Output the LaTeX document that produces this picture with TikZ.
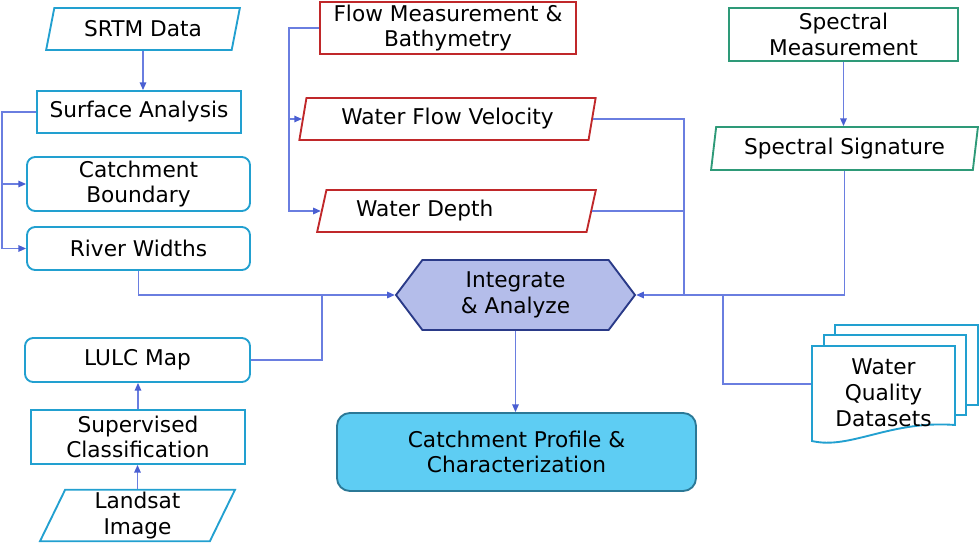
\documentclass[tikz,border=0pt]{standalone}
\usepackage{fontspec}
\setmainfont{DejaVu Sans}
\usepackage{tikz}
\usetikzlibrary{arrows.meta, positioning, shapes.geometric, shapes.symbols, calc}
\definecolor{srcblue}{HTML}{22A0D0}
\definecolor{flowred}{HTML}{C0282A}
\definecolor{specgreen}{HTML}{2E9A78}
\definecolor{linkblue}{HTML}{6A7EE0}
\definecolor{tipblue}{HTML}{4A5FD2}
\definecolor{hexfill}{HTML}{B4BDEA}
\definecolor{hexdraw}{HTML}{2A3A88}
\definecolor{resfill}{HTML}{5ECDF3}
\definecolor{resdraw}{HTML}{2B7896}

\tikzset{
    boxtext/.style={font=\fontsize{18.5}{22}\selectfont, align=center, inner sep=2pt, line width=1.6pt},
    plainbox/.style={boxtext, draw=#1, rectangle},
    roundbox/.style={boxtext, draw=srcblue, rectangle, rounded corners=7pt},
    parabox/.style n args={3}{boxtext, draw=#1, trapezium, trapezium stretches=true,
        trapezium left angle=#2, trapezium right angle=#3},
    link/.style={draw=linkblue, line width=1.2pt},
    arrowlink/.style={link, -{Triangle[length=6.5pt, width=5.5pt, color=tipblue]}}
}

\begin{document}
\begin{tikzpicture}[x=0.3mm, y=-0.3mm]
    \useasboundingbox (0,0) rectangle (980,543);

    % left column: terrain
    \node[parabox={srcblue}{75}{105}, minimum width=5.82cm, minimum height=1.26cm] (srtm) at (143,29) {SRTM Data};
    \node[plainbox=srcblue, minimum width=6.12cm, minimum height=1.26cm] (surface) at (139,112) {Surface Analysis};
    \node[roundbox, minimum width=6.69cm, minimum height=1.62cm] (boundary) at (138.5,184) {Catchment\\Boundary};
    \node[roundbox, minimum width=6.69cm, minimum height=1.29cm] (widths) at (138.5,248.5) {River Widths};

    % left column: land cover
    \node[roundbox, minimum width=6.75cm, minimum height=1.32cm] (lulc) at (137.5,360) {LULC Map};
    \node[plainbox=srcblue, minimum width=6.42cm, minimum height=1.62cm] (classif) at (138,437) {Supervised\\Classification};
    \node[parabox={srcblue}{73}{107}, minimum width=5.85cm, minimum height=1.47cm] (landsat) at (137.5,515.5) {Landsat\\Image};

    % middle: field survey
    \node[plainbox=flowred, minimum width=7.68cm, minimum height=1.56cm] (survey) at (448,28) {Flow Measurement \&\\Bathymetry};
    \node[parabox={flowred}{78}{102}, minimum width=8.91cm, minimum height=1.26cm] (velocity) at (447.5,119) {Water Flow Velocity};
    \node[parabox={flowred}{74}{106}, minimum width=8.37cm, minimum height=1.26cm, text width=6.03cm, align=left] (depth) at (456.5,211) {Water Depth};

    % right: spectral
    \node[plainbox=specgreen, minimum width=6.87cm, minimum height=1.59cm] (specmeas) at (843.5,34.5) {Spectral\\Measurement};
    \node[parabox={specgreen}{81}{99}, minimum width=8.01cm, minimum height=1.29cm] (specsig) at (844.5,148.5) {Spectral Signature};

    % centre
    \node[boxtext, draw=hexdraw, fill=hexfill, signal, signal to=west and east, signal pointer angle=106,
        minimum width=7.17cm, minimum height=2.1cm] (integrate) at (515.5,295) {Integrate\\\& Analyze};
    \node[boxtext, draw=resdraw, fill=resfill, rounded corners=11pt,
        minimum width=10.77cm, minimum height=2.34cm] (profile) at (516.5,452) {Catchment Profile \&\\Characterization};

    % water quality stack
    \draw[srcblue, line width=1.6pt, fill=white] (835,325) rectangle (978,405);
    \draw[srcblue, line width=1.6pt, fill=white] (824,335) rectangle (966,415);
    \draw[srcblue, line width=1.6pt, fill=white] (812,346) -- (955,346) -- (955,425)
        .. controls (890,420) and (850,450) .. (812,441) -- cycle;
    \node[boxtext, minimum width=4.29cm, minimum height=2.3cm] (quality) at (883.5,393) {Water\\Quality\\Datasets};

    \coordinate (joinleft) at (322,294);
    \coordinate (joinflow) at (684,294);
    \coordinate (joinqual) at (723,294);

    % connectors
    \draw[arrowlink] (srtm.south) -- (srtm.south |- surface.north);
    \draw[arrowlink] (surface.west) -- ++(-34,0) |- (boundary.west);
    \draw[arrowlink] (surface.west) -- ++(-34,0) |- (widths.west);
    \draw[arrowlink] (widths.south) |- (integrate.west);
    \draw[link] (lulc.east) -| (joinleft);
    \draw[arrowlink] (classif.north) -- (classif.north |- lulc.south);
    \draw[arrowlink] (landsat.north) -- (landsat.north |- classif.south);

    \draw[arrowlink] (survey.west) -- ++(-30,0) |- (velocity.west);
    \draw[arrowlink] (survey.west) -- ++(-30,0) |- (depth.west);
    \draw[link] (velocity.east) -| (joinflow);
    \draw[link] (depth.east) -- (depth.east -| joinflow);

    \draw[arrowlink] (specmeas.south) -- (specmeas.south |- specsig.north);
    \draw[arrowlink] (specsig.south) |- (integrate.east);
    \draw[link] ([yshift=0.27cm]quality.west) -| (joinqual);

    \draw[arrowlink] (integrate.south) -- (integrate.south |- profile.north);
\end{tikzpicture}
\end{document}
